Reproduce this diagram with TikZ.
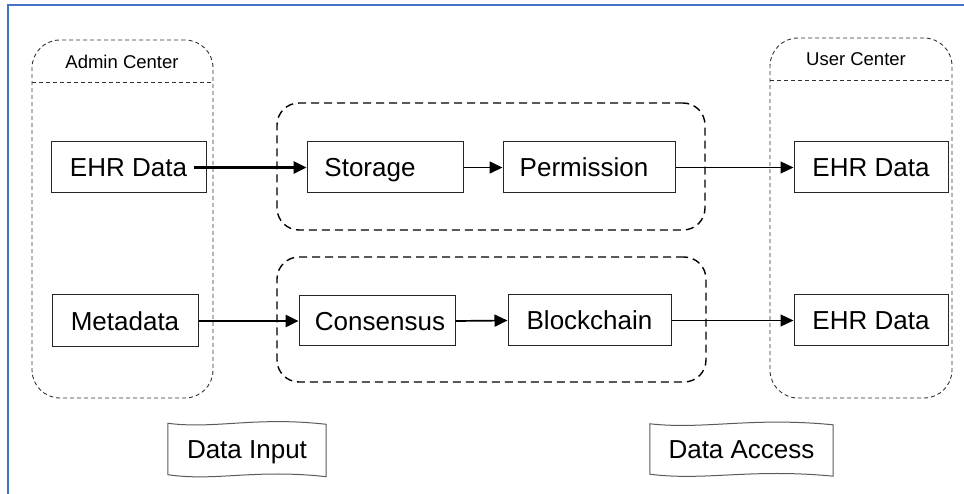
\documentclass[tikz,border=0pt]{standalone}
\usepackage{fontspec}
\setmainfont{Liberation Sans}
\usetikzlibrary{arrows.meta,calc}

\definecolor{frameblue}{RGB}{68,114,196}
\definecolor{wavegray}{RGB}{90,90,90}

\tikzset{
  box/.style={draw=black!85, line width=1pt, inner sep=0pt,
    font=\fontsize{26}{28}\selectfont, text height=18.6pt, text depth=0pt},
  centerbox/.style={draw=black!80, line width=0.9pt,
    dash pattern=on 4pt off 3pt, rounded corners=28pt},
  groupbox/.style={draw=black, line width=1.4pt,
    dash pattern=on 8pt off 5pt, rounded corners=22pt},
  header/.style={font=\fontsize{18.5}{22}\selectfont, inner sep=0pt},
  tagbox/.style={inner sep=0pt, font=\fontsize{26}{28}\selectfont,
    text height=18.6pt, text depth=0pt},
  wavyline/.style={draw=wavegray, line width=1pt},
  flow/.style={-{Triangle[length=13pt,width=12pt]}, line width=1.7pt},
  flowthick/.style={-{Triangle[length=13pt,width=12pt]}, line width=2.6pt},
  flowthin/.style={-{Triangle[length=13pt,width=12pt]}, line width=1.2pt},
}

% frame with a wavy top and bottom edge around a named node
\newcommand\wavyframe[1]{%
  \draw[wavyline]
    ($(#1.north west)+(0,0)$)
      .. controls ($(#1.north west)!0.3!(#1.north east)+(0,6)$)
         and ($(#1.north west)!0.55!(#1.north east)+(0,-7)$)
      .. ($(#1.north east)+(0,1)$)
    -- ($(#1.south east)+(0,1)$)
      .. controls ($(#1.south west)!0.55!(#1.south east)+(0,-7)$)
         and ($(#1.south west)!0.3!(#1.south east)+(0,6)$)
      .. ($(#1.south west)+(0,-1)$)
    -- cycle;}

\begin{document}
\begin{tikzpicture}[x=1pt,y=-1pt]
\useasboundingbox (0,0) rectangle (964,494);

% page frame
\coordinate (fTR) at (964,5);
\coordinate (fTL) at (8,5);
\coordinate (fBL) at (8,494);
\draw[frameblue, line width=1.6pt] (fTR) -- (fTL) -- (fBL);

% admin and user centers
\node[centerbox, minimum width=181pt, minimum height=358pt] (admin) at (122.5,219) {};
\node[centerbox, minimum width=182pt, minimum height=360pt] (user) at (861,218) {};
\coordinate (aSepL) at (32,82);  \coordinate (aSepR) at (213,82);
\coordinate (uSepL) at (770,80); \coordinate (uSepR) at (952,80);
\draw[draw=black!80, line width=0.9pt, dash pattern=on 4pt off 3pt] (aSepL) -- (aSepR);
\draw[draw=black!80, line width=0.9pt, dash pattern=on 4pt off 3pt] (uSepL) -- (uSepR);
\node[header] (adminLbl) at (122,62) {Admin Center};
\node[header] (userLbl) at (856,59) {User Center};

% middle groups
\node[groupbox, minimum width=428pt, minimum height=127pt] (gTop) at (491,166.5) {};
\node[groupbox, minimum width=429pt, minimum height=125pt] (gBot) at (491.5,319.5) {};

% boxes
\node[box, minimum width=155pt, minimum height=51pt] (ehrIn) at (128.5,167.5) {EHR Data};
\node[box, minimum width=156pt, minimum height=51pt] (storage) at (385,167.5) {Storage\hspace*{30pt}};
\node[box, minimum width=172pt, minimum height=51pt] (perm) at (589,167.5) {Permission\hspace*{10pt}};
\node[box, minimum width=154pt, minimum height=51pt] (ehrOut1) at (871,167.5) {EHR Data};

\node[box, minimum width=146pt, minimum height=52pt] (meta) at (125,321) {Metadata};
\node[box, minimum width=156pt, minimum height=50pt] (cons) at (377,321) {\hspace*{6pt}Consensus};
\node[box, minimum width=163pt, minimum height=51pt] (chain) at (589.5,320.5) {Blockchain};
\node[box, minimum width=154pt, minimum height=51pt] (ehrOut2) at (871,320.5) {EHR Data};

% connectors
\draw[flowthick] ([xshift=-13pt]ehrIn.east) -- (storage.west);
\draw[flow] (storage.east) -- (perm.west);
\draw[flowthin] (perm.east) -- (ehrOut1.west);
\draw[flowthick] (meta.east) -- (cons.west);
\draw[flow] (cons.east) -- (chain.west);
\draw[flowthin] (chain.east) -- (ehrOut2.west);

% bottom tags
\node[tagbox, minimum width=158pt, minimum height=52pt] (dIn) at (247,449.5) {Data Input};
\node[tagbox, minimum width=183pt, minimum height=51pt] (dAcc) at (741.5,449.5) {Data Access};
\wavyframe{dIn}
\wavyframe{dAcc}
\end{tikzpicture}
\end{document}
